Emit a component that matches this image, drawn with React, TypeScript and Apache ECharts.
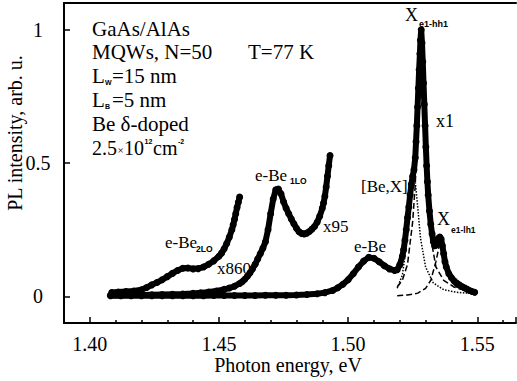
import React, { useEffect, useRef } from "react";
import * as echarts from "echarts";

// ---- data ----
const energyX1 = [1.408, 1.412, 1.416, 1.420, 1.424, 1.428, 1.432, 1.436, 1.440, 1.444, 1.448, 1.452, 1.456, 1.460, 1.464, 1.468, 1.472, 1.476, 1.480, 1.484, 1.488, 1.491, 1.494, 1.496, 1.498, 1.500, 1.502, 1.504, 1.506, 1.508, 1.510, 1.512, 1.514, 1.516, 1.518, 1.519, 1.520, 1.521, 1.5215, 1.522, 1.5225, 1.523, 1.5235, 1.524, 1.5245, 1.525, 1.5255, 1.526, 1.5263, 1.5266, 1.5269, 1.5272, 1.5275, 1.5278, 1.528, 1.5283, 1.5286, 1.5289, 1.5292, 1.5295, 1.5298, 1.5301, 1.5304, 1.5307, 1.531, 1.5315, 1.532, 1.5325, 1.533, 1.5335, 1.534, 1.5345, 1.535, 1.5355, 1.536, 1.5365, 1.537, 1.5375, 1.538, 1.539, 1.540, 1.541, 1.542, 1.543, 1.544, 1.545, 1.546, 1.547, 1.548, 1.549];
const intensityX1 = [0.002, 0.002, 0.002, 0.002, 0.002, 0.002, 0.002, 0.002, 0.002, 0.002, 0.003, 0.003, 0.003, 0.003, 0.003, 0.004, 0.004, 0.004, 0.005, 0.007, 0.010, 0.014, 0.022, 0.032, 0.045, 0.062, 0.085, 0.110, 0.132, 0.146, 0.143, 0.130, 0.115, 0.103, 0.097, 0.100, 0.118, 0.150, 0.175, 0.210, 0.250, 0.295, 0.335, 0.380, 0.420, 0.450, 0.475, 0.520, 0.580, 0.640, 0.710, 0.780, 0.850, 0.910, 0.960, 1.000, 0.950, 0.880, 0.800, 0.720, 0.640, 0.560, 0.490, 0.430, 0.380, 0.320, 0.270, 0.235, 0.205, 0.190, 0.192, 0.205, 0.218, 0.222, 0.215, 0.190, 0.160, 0.130, 0.110, 0.085, 0.070, 0.058, 0.050, 0.043, 0.037, 0.032, 0.027, 0.022, 0.018, 0.015];

const energyX95 = [1.408, 1.412, 1.416, 1.420, 1.424, 1.428, 1.432, 1.436, 1.440, 1.443, 1.446, 1.449, 1.452, 1.454, 1.456, 1.458, 1.459, 1.460, 1.461, 1.462, 1.463, 1.464, 1.465, 1.466, 1.467, 1.468, 1.469, 1.470, 1.471, 1.472, 1.473, 1.474, 1.475, 1.476, 1.477, 1.478, 1.479, 1.480, 1.481, 1.482, 1.483, 1.484, 1.485, 1.486, 1.487, 1.488, 1.489, 1.490, 1.4905, 1.491, 1.4915, 1.492, 1.4925, 1.493];
const intensityX95 = [0.004, 0.004, 0.005, 0.005, 0.006, 0.007, 0.008, 0.009, 0.011, 0.013, 0.016, 0.020, 0.026, 0.031, 0.038, 0.048, 0.055, 0.064, 0.075, 0.088, 0.103, 0.120, 0.140, 0.160, 0.180, 0.205, 0.250, 0.310, 0.365, 0.400, 0.402, 0.385, 0.355, 0.330, 0.310, 0.290, 0.272, 0.255, 0.242, 0.236, 0.234, 0.237, 0.243, 0.252, 0.262, 0.278, 0.300, 0.330, 0.350, 0.375, 0.410, 0.450, 0.490, 0.528];

const energyX860 = [1.4085, 1.411, 1.414, 1.417, 1.420, 1.422, 1.424, 1.426, 1.428, 1.430, 1.432, 1.434, 1.436, 1.438, 1.440, 1.442, 1.444, 1.446, 1.448, 1.450, 1.451, 1.452, 1.453, 1.454, 1.455, 1.4555, 1.456, 1.4565, 1.457, 1.4575, 1.458];
const intensityX860 = [0.014, 0.016, 0.018, 0.020, 0.025, 0.033, 0.043, 0.052, 0.062, 0.074, 0.086, 0.097, 0.105, 0.106, 0.103, 0.104, 0.110, 0.120, 0.133, 0.150, 0.162, 0.178, 0.198, 0.222, 0.250, 0.268, 0.288, 0.310, 0.333, 0.353, 0.372];

const energyFitHH = [1.519, 1.521, 1.523, 1.525, 1.526, 1.527, 1.528, 1.5283, 1.529, 1.530, 1.531, 1.532, 1.534, 1.537, 1.541, 1.546, 1.549];
const fitHH = [0.035, 0.06, 0.12, 0.28, 0.42, 0.66, 0.97, 1.0, 0.9, 0.6, 0.36, 0.22, 0.11, 0.06, 0.035, 0.02, 0.015];
const energyFitBeX = [1.519, 1.521, 1.522, 1.523, 1.524, 1.525, 1.526, 1.527, 1.528, 1.530, 1.533, 1.537, 1.542, 1.549];
const fitBeX = [0.03, 0.08, 0.15, 0.26, 0.38, 0.45, 0.43, 0.33, 0.22, 0.11, 0.05, 0.025, 0.015, 0.01];
const energyFitLH = [1.519, 1.523, 1.527, 1.530, 1.532, 1.534, 1.5357, 1.537, 1.539, 1.542, 1.546, 1.549];
const fitLH = [0.002, 0.005, 0.012, 0.03, 0.06, 0.13, 0.21, 0.15, 0.07, 0.035, 0.02, 0.015];

const xTitle = "Photon energy, eV";
const yTitle = "PL intensity, arb. u.";

const serif = "'Liberation Serif', 'Times New Roman', serif";
const sans = "'Liberation Sans', Arial, sans-serif";

const zip = (xs: number[], ys: number[]) => xs.map((x, i) => [x, ys[i]]);

function txt(text: string, x: number, y: number, size: number, extra: any = {}) {
  return {
    type: "text",
    x,
    y,
    silent: true,
    z: 100,
    style: {
      text,
      fill: "#000",
      fontSize: size,
      fontFamily: serif,
      align: "left",
      verticalAlign: "middle",
      ...extra,
    },
  };
}
const sub = (text: string, x: number, y: number, size: number) =>
  txt(text, x, y, size, { fontFamily: sans, fontWeight: "bold" });

export default function App() {
  const ref = useRef<HTMLDivElement>(null);
  useEffect(() => {
    if (!ref.current) return;
    const chart = echarts.init(ref.current, null, { renderer: "svg" });
    const dataSeries = (data: number[][]) => ({
      type: "line",
      data,
      xAxisIndex: 0,
      yAxisIndex: 0,
      symbol: "circle",
      symbolSize: 7,
      showSymbol: true,
      showAllSymbol: true,
      itemStyle: { color: "#000" },
      lineStyle: { color: "#000", width: 6, cap: "round", join: "round" },
      z: 3,
      silent: true,
    });
    const fitSeries = (data: number[][], type: string) => ({
      type: "line",
      data,
      xAxisIndex: 0,
      yAxisIndex: 0,
      symbol: "none",
      lineStyle: { color: "#000", width: 1.5, type },
      z: 2,
      silent: true,
    });
    const graphics: any[] = [
      txt("GaAs/AlAs", 92, 29, 21),
      txt("MQWs, N=50", 92, 52, 21),
      txt("T=77 K", 248, 52, 21),
      txt("L", 92, 76, 21),
      sub("W", 105, 82, 7),
      txt("=15 nm", 112, 76, 21),
      txt("L", 92, 100, 21),
      sub("B", 105, 106, 7),
      txt("=5 nm", 112, 100, 21),
      txt("Be δ-doped", 92, 124, 21),
      txt("2.5", 92, 148, 20),
      txt("×", 117.5, 150, 11),
      txt("10", 124, 148, 20),
      sub("12", 144.5, 141, 7),
      txt("cm", 153, 148, 20),
      sub("-2", 178, 141, 7),
      txt("X", 405, 15, 18),
      sub("e1-hh1", 419, 24, 9),
      txt("x1", 436, 121, 18),
      txt("[Be,X]", 361, 186, 17),
      txt("X", 437, 219, 18),
      sub("e1-lh1", 451, 230, 8.5),
      txt("e-Be", 354, 246, 17),
      txt("x95", 323, 226, 17),
      txt("e-Be", 255, 175, 17),
      sub("1LO", 290, 181, 8.5),
      txt("e-Be", 165, 242, 17),
      sub("2LO", 196, 249, 8.5),
      txt("x860", 217, 268, 17),
      txt(xTitle, 288, 365, 20, { align: "center" }),
      {
        type: "text",
        x: 15,
        y: 133,
        rotation: Math.PI / 2,
        silent: true,
        style: {
          text: yTitle,
          fill: "#000",
          fontSize: 20,
          fontFamily: serif,
          align: "center",
          verticalAlign: "middle",
        },
      },
    ];
    chart.setOption({
      animation: false,
      backgroundColor: "#fff",
      grid: { left: 64, top: 3, width: 452, height: 320, show: false, containLabel: false, outerBoundsMode: "none" },
      xAxis: [
        {
          type: "value",
          position: "bottom",
          min: 1.39,
          max: 1.565,
          minInterval: 0.05,
          maxInterval: 0.05,
          axisLine: { show: true, onZero: false, lineStyle: { color: "#000", width: 2 } },
          axisTick: { show: true, inside: true, length: 6, lineStyle: { color: "#000", width: 1.5 } },
          minorTick: { show: true, splitNumber: 5, length: 3, lineStyle: { color: "#000", width: 1.5 } },
          splitLine: { show: false },
          minorSplitLine: { show: false },
          axisLabel: {
            show: true,
            showMinLabel: false,
            showMaxLabel: false,
            margin: 11,
            color: "#000",
            fontSize: 20,
            fontFamily: serif,
            formatter: (v: number) => v.toFixed(2),
          },
        },
        {
          type: "value",
          position: "top",
          min: 1.39,
          max: 1.565,
          axisLine: { show: true, onZero: false, lineStyle: { color: "#000", width: 2 } },
          axisTick: { show: false },
          axisLabel: { show: false },
          splitLine: { show: false },
        },
      ],
      yAxis: {
        type: "value",
        min: -0.1,
        max: 1.1,
        minInterval: 0.5,
        maxInterval: 0.5,
        axisLine: { show: true, onZero: false, lineStyle: { color: "#000", width: 2 } },
        axisTick: { show: true, inside: true, length: 6, lineStyle: { color: "#000", width: 1.5 } },
        splitLine: { show: false },
        axisLabel: {
          show: true,
          showMinLabel: false,
          showMaxLabel: false,
          align: "center",
          margin: 26,
          color: "#000",
          fontSize: 20,
          fontFamily: serif,
          formatter: (v: number) => String(Math.round(v * 10) / 10),
        },
      },
      series: [
        fitSeries(zip(energyFitHH, fitHH), "dashed"),
        fitSeries(zip(energyFitBeX, fitBeX), "dotted"),
        fitSeries(zip(energyFitLH, fitLH), "dashed"),
        dataSeries(zip(energyX860, intensityX860)),
        dataSeries(zip(energyX95, intensityX95)),
        dataSeries(zip(energyX1, intensityX1)),
      ],
      graphic: graphics,
    });
    return () => chart.dispose();
  }, []);
  return (
    <div
      ref={ref}
      style={{ position: "fixed", left: 0, top: 0, width: 517, height: 381, background: "#fff" }}
    />
  );
}
